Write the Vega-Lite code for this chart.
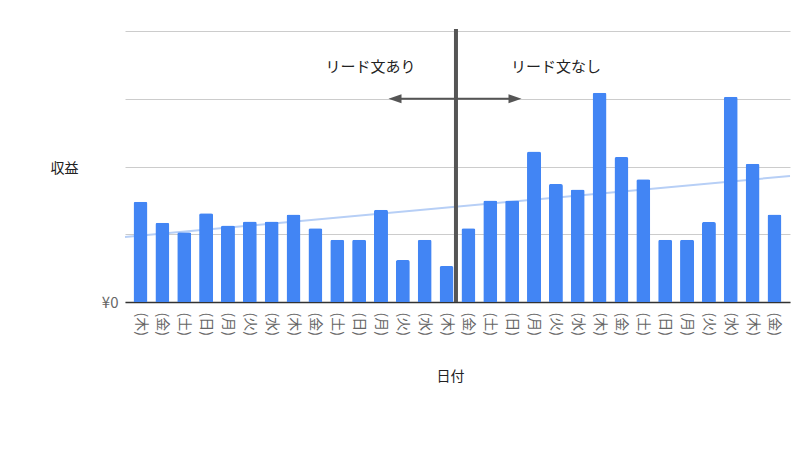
{
  "$schema": "https://vega.github.io/schema/vega-lite/v6.json",
  "width": 665,
  "height": 271,
  "autosize": {"type": "none"},
  "padding": {"left": 125, "top": 31, "right": 10, "bottom": 148},
  "background": "white",
  "config": {
    "font": "Noto Sans CJK JP",
    "view": {"stroke": null}
  },
  "datasets": {
    "sales": [
      {"date": "2021-04-01", "i": 0, "収益": 1480},
      {"date": "2021-04-02", "i": 1, "収益": 1170},
      {"date": "2021-04-03", "i": 2, "収益": 1030},
      {"date": "2021-04-04", "i": 3, "収益": 1310},
      {"date": "2021-04-05", "i": 4, "収益": 1130},
      {"date": "2021-04-06", "i": 5, "収益": 1190},
      {"date": "2021-04-07", "i": 6, "収益": 1190},
      {"date": "2021-04-08", "i": 7, "収益": 1290},
      {"date": "2021-04-09", "i": 8, "収益": 1090},
      {"date": "2021-04-10", "i": 9, "収益": 920},
      {"date": "2021-04-11", "i": 10, "収益": 920},
      {"date": "2021-04-12", "i": 11, "収益": 1360},
      {"date": "2021-04-13", "i": 12, "収益": 620},
      {"date": "2021-04-14", "i": 13, "収益": 920},
      {"date": "2021-04-15", "i": 14, "収益": 530},
      {"date": "2021-04-16", "i": 15, "収益": 1090},
      {"date": "2021-04-17", "i": 16, "収益": 1500},
      {"date": "2021-04-18", "i": 17, "収益": 1500},
      {"date": "2021-04-19", "i": 18, "収益": 2220},
      {"date": "2021-04-20", "i": 19, "収益": 1740},
      {"date": "2021-04-21", "i": 20, "収益": 1660},
      {"date": "2021-04-22", "i": 21, "収益": 3090},
      {"date": "2021-04-23", "i": 22, "収益": 2140},
      {"date": "2021-04-24", "i": 23, "収益": 1810},
      {"date": "2021-04-25", "i": 24, "収益": 920},
      {"date": "2021-04-26", "i": 25, "収益": 920},
      {"date": "2021-04-27", "i": 26, "収益": 1180},
      {"date": "2021-04-28", "i": 27, "収益": 3030},
      {"date": "2021-04-29", "i": 28, "収益": 2040},
      {"date": "2021-04-30", "i": 29, "収益": 1290}
    ],
    "divider": [{"i": 14.43, "y0": 0, "y1": 4030}],
    "arrow": [{"i0": 11.64, "i1": 17.13, "v": 3000}],
    "heads": [
      {"i": 11.64, "v": 3000, "dir": "left"},
      {"i": 17.13, "v": 3000, "dir": "right"}
    ],
    "notes": [
      {"i": 10.52, "v": 3470, "t": "リード文あり"},
      {"i": 19.01, "v": 3470, "t": "リード文なし"}
    ]
  },
  "layer": [
    {
      "data": {"name": "sales"},
      "transform": [
        {"regression": "収益", "on": "i", "method": "linear", "extent": [-0.71, 29.71]}
      ],
      "mark": {"type": "line", "color": "#b7cff6", "strokeWidth": 2},
      "encoding": {
        "x": {"field": "i", "type": "quantitative", "scale": {"domain": [-0.71, 29.71], "nice": false, "zero": false}, "axis": null},
        "y": {"field": "収益", "type": "quantitative"}
      }
    },
    {
      "data": {"name": "sales"},
      "mark": {"type": "bar", "color": "#4285f4", "cornerRadiusTopLeft": 2, "cornerRadiusTopRight": 2},
      "encoding": {
        "x": {
          "field": "date",
          "type": "ordinal",
          "scale": {"paddingInner": 0.36, "paddingOuter": 0.39},
          "axis": {
            "title": "日付",
            "labelAngle": 90,
            "labelAlign": "left",
            "labelBaseline": "middle",
            "labelExpr": "'(' + ['日','月','火','水','木','金','土'][utcday(toDate(datum.value))] + ')'",
            "labelFontSize": 14,
            "labelColor": "#666666",
            "labelPadding": 10,
            "ticks": false,
            "domainColor": "#333333",
            "domainWidth": 1.5,
            "titleFontSize": 14,
            "titleFontWeight": "normal",
            "titleColor": "#222222",
            "titleX": 325,
            "titleY": 74,
            "titleBaseline": "middle",
            "titleAlign": "center"
          }
        },
        "y": {
          "field": "収益",
          "type": "quantitative",
          "scale": {"domain": [0, 4000], "nice": false},
          "axis": {
            "title": "収益",
            "values": [0, 1000, 2000, 3000, 4000],
            "labelExpr": "datum.value == 0 ? '¥0' : ''",
            "labelFontSize": 15,
            "labelColor": "#666666",
            "labelPadding": 7,
            "ticks": false,
            "domain": false,
            "gridColor": "#cccccc",
            "gridWidth": 1,
            "titleAngle": 0,
            "titleFontSize": 14,
            "titleFontWeight": "normal",
            "titleColor": "#222222",
            "titleX": -61,
            "titleY": 137,
            "titleAlign": "center",
            "titleBaseline": "middle"
          }
        }
      }
    },
    {
      "data": {"name": "divider"},
      "mark": {"type": "rule", "color": "#555555", "strokeWidth": 4},
      "encoding": {
        "x": {"field": "i", "type": "quantitative", "scale": {"domain": [-0.71, 29.71], "nice": false, "zero": false}, "axis": null},
        "y": {"field": "y0", "type": "quantitative"},
        "y2": {"field": "y1"}
      }
    },
    {
      "data": {"name": "arrow"},
      "mark": {"type": "rule", "color": "#555555", "strokeWidth": 2},
      "encoding": {
        "x": {"field": "i0", "type": "quantitative", "scale": {"domain": [-0.71, 29.71], "nice": false, "zero": false}, "axis": null},
        "x2": {"field": "i1"},
        "y": {"field": "v", "type": "quantitative"}
      }
    },
    {
      "data": {"name": "heads"},
      "mark": {"type": "point", "filled": true, "opacity": 1, "color": "#555555", "size": 169},
      "encoding": {
        "x": {"field": "i", "type": "quantitative", "scale": {"domain": [-0.71, 29.71], "nice": false, "zero": false}, "axis": null},
        "y": {"field": "v", "type": "quantitative"},
        "shape": {
          "field": "dir",
          "type": "nominal",
          "scale": {"domain": ["left", "right"], "range": ["M-1,0L1,-0.7L1,0.7Z", "M1,0L-1,-0.7L-1,0.7Z"]},
          "legend": null
        }
      }
    },
    {
      "data": {"name": "notes"},
      "mark": {"type": "text", "fontSize": 15, "color": "#222222", "baseline": "middle", "align": "center"},
      "encoding": {
        "x": {"field": "i", "type": "quantitative", "scale": {"domain": [-0.71, 29.71], "nice": false, "zero": false}, "axis": null},
        "y": {"field": "v", "type": "quantitative"},
        "text": {"field": "t"}
      }
    }
  ],
  "resolve": {"scale": {"x": "independent"}}
}
